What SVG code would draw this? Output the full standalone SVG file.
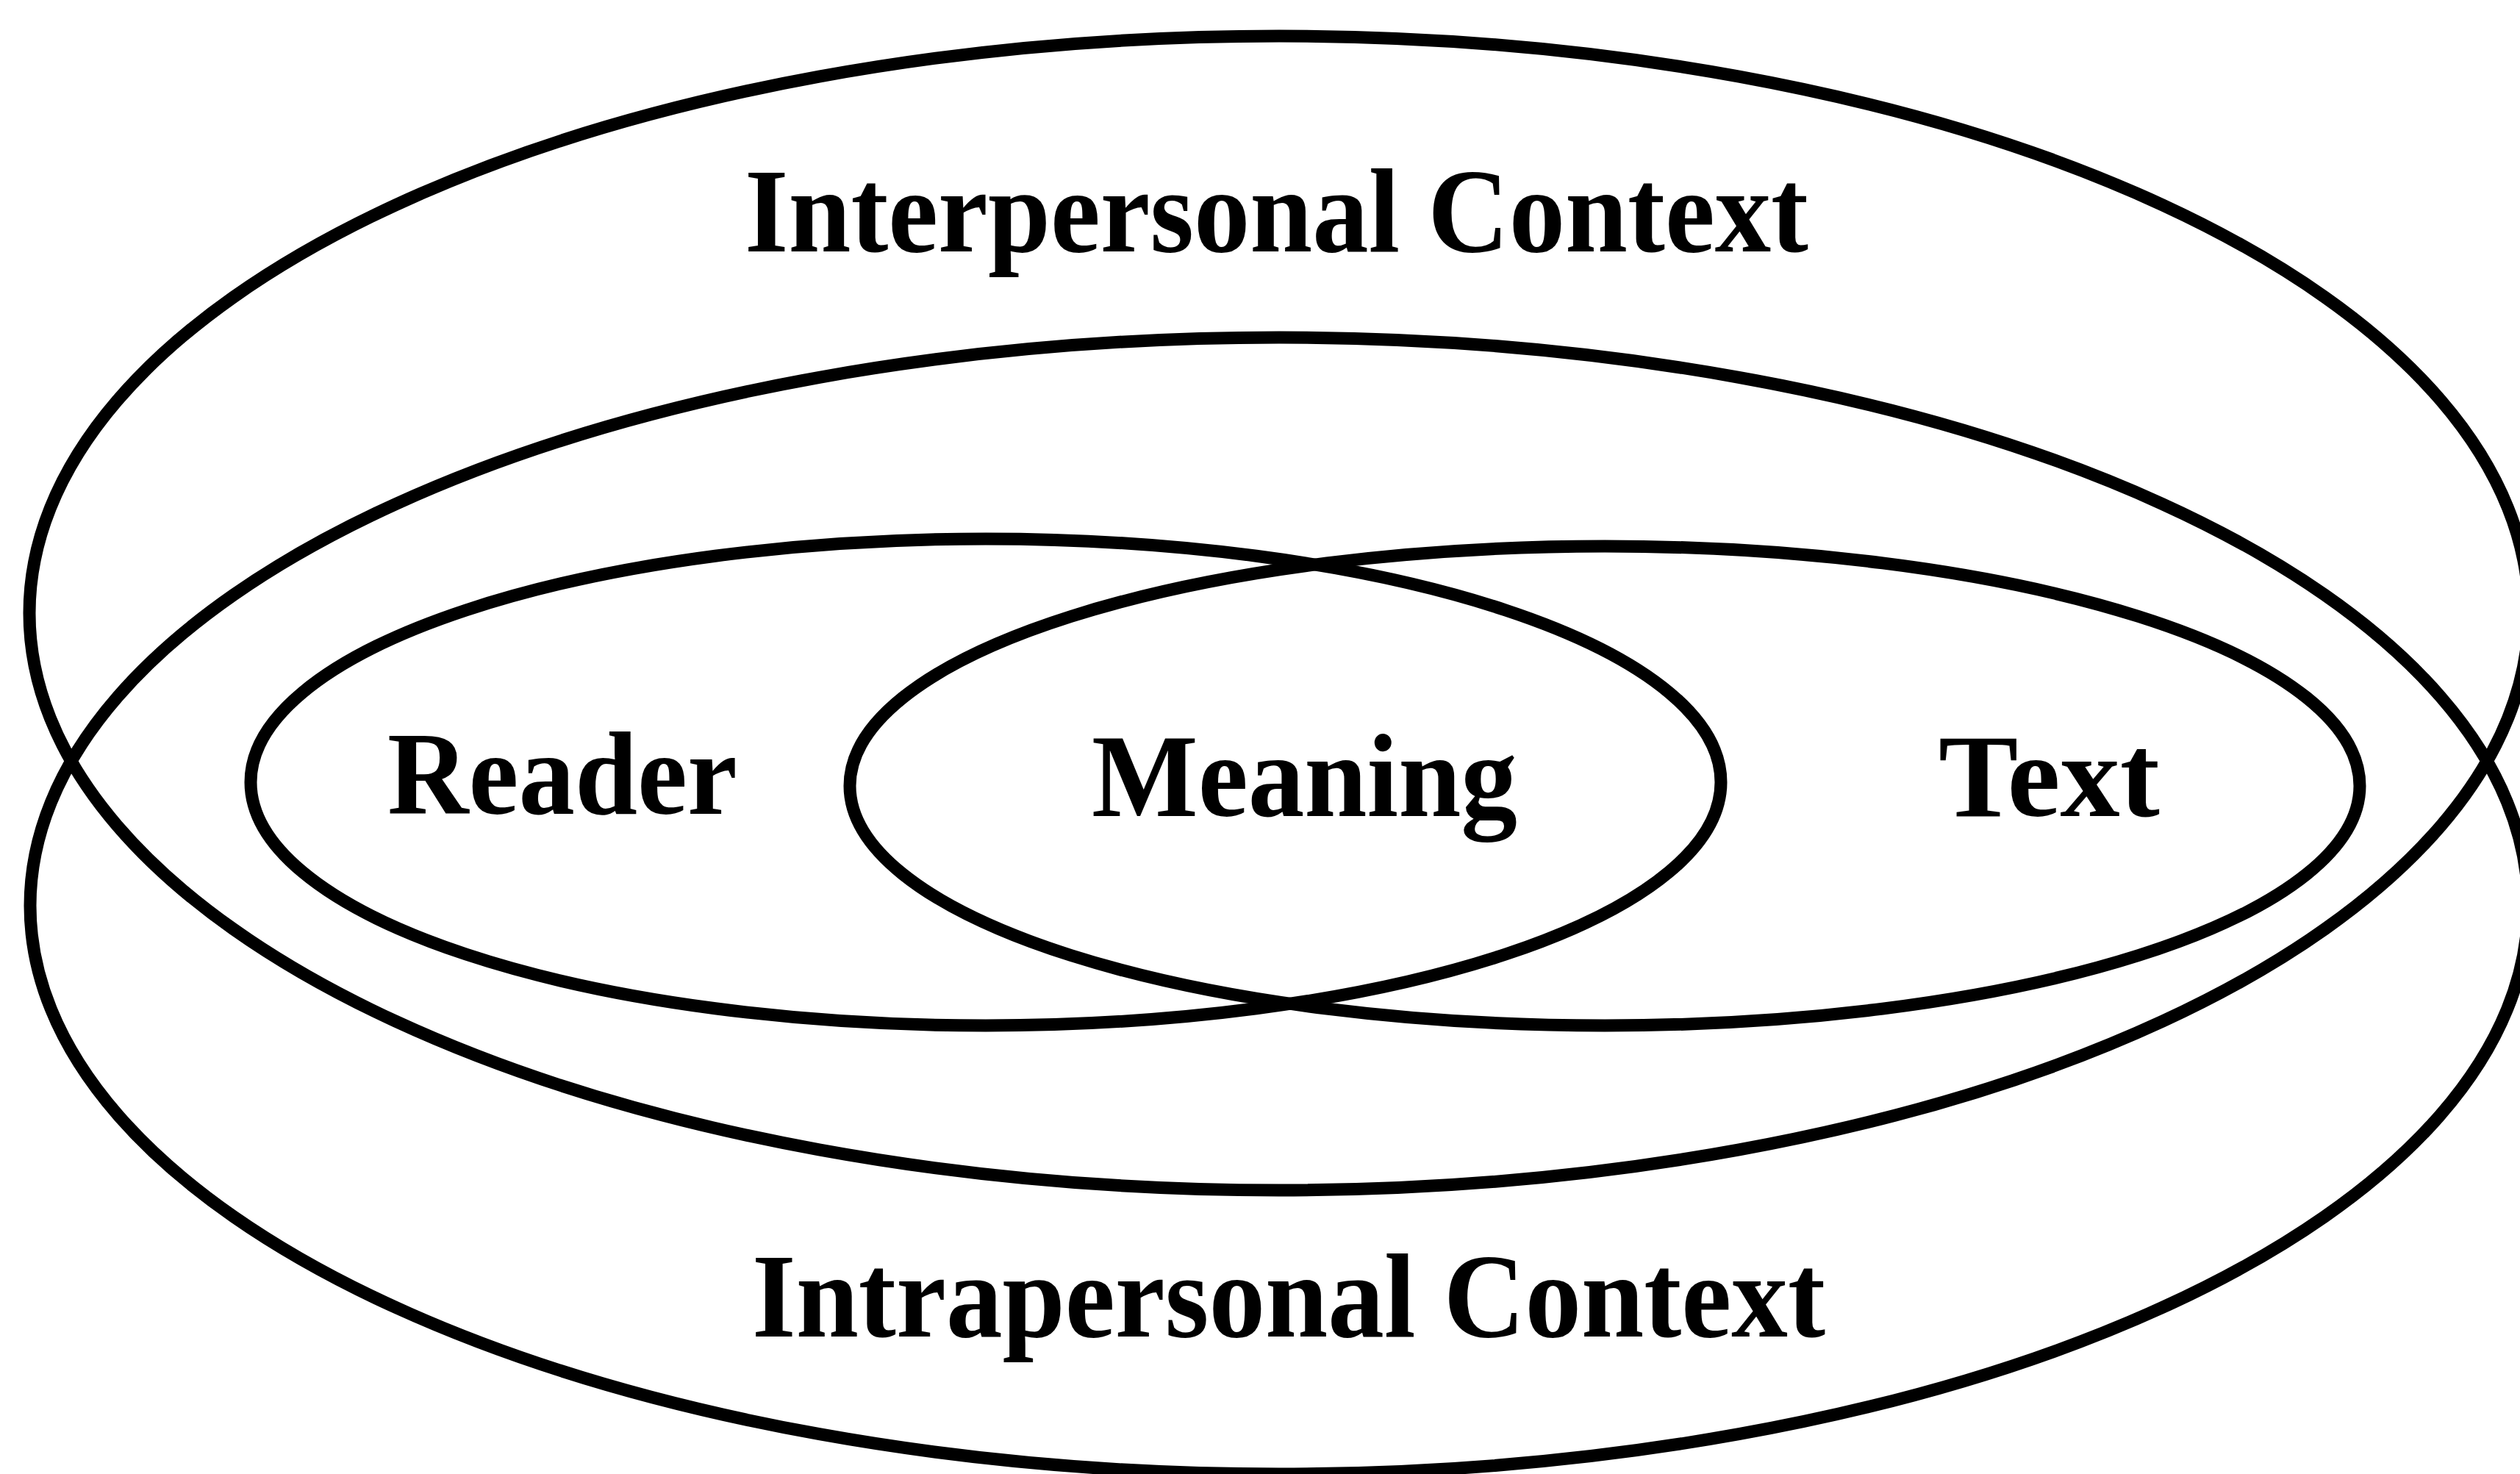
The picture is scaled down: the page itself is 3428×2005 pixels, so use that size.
<svg xmlns="http://www.w3.org/2000/svg" width="3428" height="2005" viewBox="0 0 3428 2005">
<style>
.ring{fill:none;stroke:#000;stroke-width:17}
.lbl{font-family:"Liberation Serif","Times New Roman",serif;font-weight:bold;fill:#000}
</style>
<rect width="3428" height="2005" fill="#fff"/>
<g id="interpersonal">
<ellipse class="ring" cx="1740" cy="834" rx="1700" ry="785"/>
<text class="lbl" x="1013" y="342" font-size="164" textLength="1447" lengthAdjust="spacingAndGlyphs">Interpersonal Context</text>
</g>
<g id="intrapersonal">
<ellipse class="ring" cx="1740" cy="1232" rx="1699" ry="773"/>
<text class="lbl" x="1023" y="1818" font-size="164" textLength="1460" lengthAdjust="spacingAndGlyphs">Intrapersonal Context</text>
</g>
<g id="reader">
<ellipse class="ring" cx="1341" cy="1064" rx="1000" ry="331"/>
<text class="lbl" x="527" y="1107" font-size="162" textLength="476" lengthAdjust="spacingAndGlyphs">Reader</text>
</g>
<g id="text">
<ellipse class="ring" cx="2183" cy="1069" rx="1027" ry="326"/>
<text class="lbl" x="2637" y="1110" font-size="162" textLength="301" lengthAdjust="spacingAndGlyphs">Text</text>
</g>
<g id="meaning">
<text class="lbl" x="1485" y="1110" font-size="162" textLength="579" lengthAdjust="spacingAndGlyphs">Meaning</text>
</g>
<g id="connectors"></g>
</svg>
